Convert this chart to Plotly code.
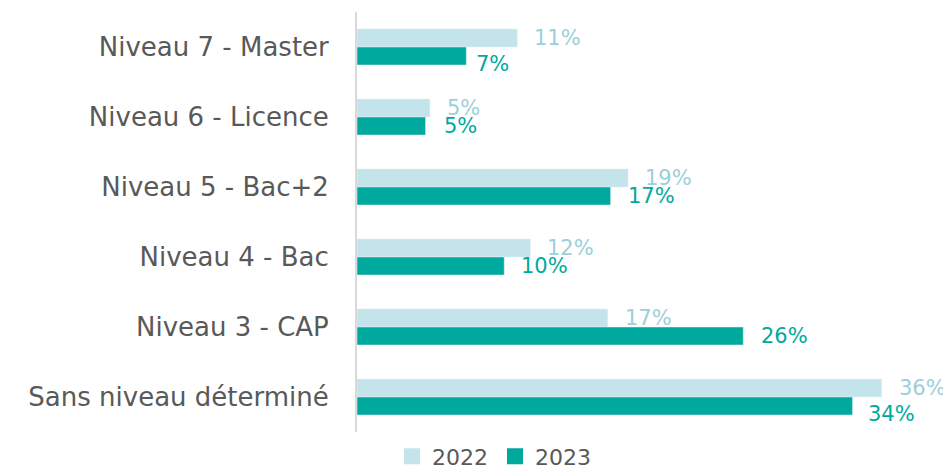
import plotly.graph_objects as go

categories = ["Niveau 7 - Master", "Niveau 6 - Licence", "Niveau 5 - Bac+2",
              "Niveau 4 - Bac", "Niveau 3 - CAP", "Sans niveau déterminé"]
values_2022 = [11, 5, 18.6, 11.9, 17.2, 36]
values_2023 = [7.5, 4.7, 17.4, 10.1, 26.5, 34]
labels_2022 = ["11%", "5%", "19%", "12%", "17%", "36%"]
labels_2023 = ["7%", "5%", "17%", "10%", "26%", "34%"]

# small label nudges seen in the original (pixels)
nudge_x_2023 = [9, 17, 16, 16, 17, 14]
nudge_y_2023 = [-8, 0, 0, 0, 0, -8]

c22 = "#C4E4EB"
c22_text = "#9CCFDB"
c23 = "#00A99D"
font_family = "DejaVu Sans"
grey = "#595959"

fig = go.Figure()
fig.add_trace(go.Bar(y=categories, x=values_2022, name="2022", orientation="h",
                     marker=dict(color=c22), showlegend=False))
fig.add_trace(go.Bar(y=categories, x=values_2023, name="2023", orientation="h",
                     marker=dict(color=c23), showlegend=False))

# legend entries with larger square symbols
for name, col in [("2022", c22), ("2023", c23)]:
    fig.add_trace(go.Scatter(x=[None], y=[None], mode="markers", name=name,
                             marker=dict(symbol="square", size=16, color=col)))

annotations = []
for cat, v, t in zip(categories, values_2022, labels_2022):
    annotations.append(dict(x=v, y=cat, xref="x", yref="y", text=t, showarrow=False,
                            xanchor="left", yanchor="middle", xshift=15, yshift=9,
                            font=dict(size=21, color=c22_text, family=font_family)))
for cat, v, t, nx, ny in zip(categories, values_2023, labels_2023, nudge_x_2023, nudge_y_2023):
    annotations.append(dict(x=v, y=cat, xref="x", yref="y", text=t, showarrow=False,
                            xanchor="left", yanchor="middle", xshift=nx - 1, yshift=-9 + ny,
                            font=dict(size=21, color=c23, family=font_family)))

fig.update_layout(
    width=951, height=471,
    barmode="group", bargap=0.486, bargroupgap=0,
    plot_bgcolor="white", paper_bgcolor="white",
    margin=dict(l=349, r=19, t=4, b=47, autoexpand=False),
    font=dict(family=font_family, color=grey, size=22),
    showlegend=True,
    legend=dict(orientation="h", x=0.06, xanchor="left", y=-0.058, yanchor="middle",
                font=dict(size=22, color=grey), traceorder="normal",
                entrywidth=58, itemsizing="trace"),
    xaxis=dict(range=[0, 40], showgrid=False, showticklabels=False, zeroline=False,
               showline=False, automargin=False),
    yaxis=dict(autorange="reversed", showline=True, linecolor="#D9D9D9", linewidth=2,
               ticks="", ticklabelstandoff=21, showgrid=False, automargin=False,
               tickfont=dict(size=26, color=grey)),
    annotations=annotations,
)

fig.write_html("out.html")
